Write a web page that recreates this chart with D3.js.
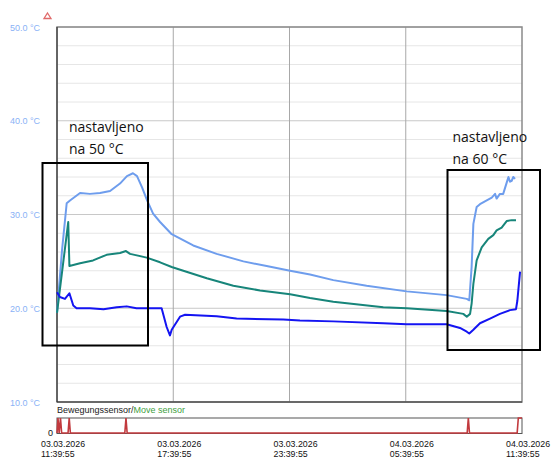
<!DOCTYPE html>
<html>
<head>
<meta charset="utf-8">
<script src="https://cdn.jsdelivr.net/npm/d3@7"></script>
<style>
  body { margin: 0; background: #fff; }
  svg { display: block; font-family: "Liberation Sans", Arial, sans-serif; }
</style>
</head>
<body>
<svg id="chart" width="552" height="457"></svg>
<script>
// hours since 03.03.2026 11:39:55
let lightHours = [0, 0.26, 0.5, 0.67, 1.19, 1.7, 2.22, 2.74, 3.25, 3.61, 3.92, 4.13, 4.39, 4.65, 4.96, 5.32, 5.92, 7.03, 8.24, 9.62, 10.82, 12.03, 13.06, 14.26, 15.98, 18.05, 20.11, 21.15, 21.28, 21.4, 21.49, 21.66, 21.83, 22.18, 22.44, 22.61, 22.69, 22.86, 23.03, 23.21, 23.3, 23.38, 23.47, 23.55, 23.64];
let lightTemp  = [19.5, 26.2, 31.2, 31.5, 32.3, 32.2, 32.3, 32.5, 33.3, 34.1, 34.4, 34.1, 32.9, 31.5, 30.1, 29.2, 27.9, 26.7, 25.8, 25.0, 24.5, 24.0, 23.6, 23.0, 22.4, 21.8, 21.4, 21.0, 20.85, 24.4, 29.0, 30.8, 31.1, 31.5, 31.8, 32.2, 31.7, 32.2, 32.2, 33.4, 34.0, 33.5, 33.6, 34.0, 33.8];

let tealHours = [0, 0.58, 0.64, 1.19, 1.86, 2.56, 3.25, 3.56, 3.77, 4.63, 5.32, 5.92, 6.52, 7.73, 9.1, 10.48, 12.03, 13.06, 14.26, 16.84, 18.05, 20.11, 20.97, 21.15, 21.32, 21.4, 21.49, 21.66, 21.92, 22.26, 22.52, 22.69, 22.95, 23.21, 23.47, 23.69];
let tealTemp  = [19.5, 29.2, 24.5, 24.8, 25.1, 25.7, 25.9, 26.1, 25.8, 25.4, 24.9, 24.4, 24.0, 23.2, 22.4, 21.9, 21.5, 21.1, 20.7, 20.1, 20.0, 19.7, 19.4, 19.1, 19.4, 20.5, 22.6, 25.1, 26.5, 27.4, 27.8, 28.3, 28.6, 29.3, 29.4, 29.4];

let blueHours = [0, 0.15, 0.41, 0.64, 0.84, 1.01, 1.7, 2.4, 3.08, 3.6, 4.1, 5.14, 5.4, 5.66, 5.83, 5.92, 6.35, 6.61, 8.24, 9.27, 11.68, 12.54, 14.26, 16.84, 18.05, 20.11, 20.8, 21.15, 21.28, 21.49, 21.83, 22.35, 22.86, 23.38, 23.69, 23.76, 23.9];
let blueTemp  = [21.7, 21.2, 21.0, 21.6, 20.3, 20.0, 20.0, 19.9, 20.1, 20.2, 20.0, 20.0, 20.0, 18.0, 17.1, 17.7, 19.1, 19.3, 19.15, 18.9, 18.8, 18.7, 18.6, 18.4, 18.3, 18.3, 17.9, 17.5, 17.3, 17.7, 18.4, 18.9, 19.4, 19.8, 19.9, 20.8, 23.9];

let moveHours = [0, 0.05, 0.11, 0.18, 0.24, 0.57, 0.63, 0.69, 3.5, 3.56, 3.62, 21.17, 21.23, 21.29, 23.75, 23.81, 24];
let moveValue = [0, 1, 0, 1, 0, 0, 1, 0, 0, 1, 0, 0, 1, 0, 0, 1, 1];

let yLabels = [10, 20, 30, 40, 50];

let start = new Date(2026, 2, 3, 11, 39, 55);
let toDate = h => new Date(start.getTime() + h * 3600000);

let svg = d3.select("#chart");

let x = d3.scaleTime().domain([start, toDate(24)]).range([57, 522]);
let y = d3.scaleLinear().domain([10, 50]).range([402, 27]);
let ym = d3.scaleLinear().domain([0, 1]).range([433, 418]);

// minor grid every 2 degrees
svg.append("g").selectAll("line")
  .data(d3.range(10, 51, 2))
  .join("line")
  .attr("x1", 57).attr("x2", 522)
  .attr("y1", d => y(d)).attr("y2", d => y(d))
  .attr("stroke", d => d % 10 === 0 ? "#c8c8c8" : "#e6e6e6")
  .attr("stroke-width", 1);

// vertical grid every 6 hours
let xTicks = [0, 6, 12, 18, 24].map(toDate);
svg.append("g").selectAll("line")
  .data(xTicks.slice(1, 4))
  .join("line")
  .attr("x1", d => x(d)).attr("x2", d => x(d))
  .attr("y1", 27).attr("y2", 402)
  .attr("stroke", "#a8a8a8");

// frame
svg.append("rect").attr("x", 57).attr("y", 27).attr("width", 465).attr("height", 375)
  .attr("fill", "none").attr("stroke", "#8a8a8a").attr("stroke-width", 1.5);
svg.append("line").attr("x1", 57).attr("x2", 57).attr("y1", 27).attr("y2", 402).attr("stroke", "#222");
svg.append("line").attr("x1", 57).attr("x2", 522).attr("y1", 402).attr("y2", 402).attr("stroke", "#333");

// y labels
let yAxis = svg.append("g")
  .attr("transform", "translate(40,0)")
  .call(d3.axisLeft(y).tickValues(yLabels).tickSize(0).tickFormat(d => d.toFixed(1) + " °C"));
yAxis.select(".domain").remove();
yAxis.selectAll("text").attr("fill", "#8ab2f6").attr("font-size", 9).attr("x", 0).attr("dy", "0.35em")
  .attr("font-family", "Liberation Sans, Arial, sans-serif");

// small red triangle marker
svg.append("path")
  .attr("d", "M47.5,13 L51,18.5 L44,18.5 Z")
  .attr("fill", "none").attr("stroke", "#e06a6a").attr("stroke-width", 1.3);

// series
function drawLine(hours, temps, color) {
  let pts = hours.map((h, i) => [toDate(h), temps[i]]);
  svg.append("path")
    .datum(pts)
    .attr("fill", "none")
    .attr("stroke", color)
    .attr("stroke-width", 2)
    .attr("stroke-linejoin", "round")
    .attr("d", d3.line().x(d => x(d[0])).y(d => y(d[1])));
}
drawLine(lightHours, lightTemp, "#6e9ded");
drawLine(tealHours, tealTemp, "#17857a");
drawLine(blueHours, blueTemp, "#1414f2");

// annotation boxes
svg.append("rect").attr("x", 42.5).attr("y", 163).attr("width", 105.5).attr("height", 182.5)
  .attr("fill", "none").attr("stroke", "#000").attr("stroke-width", 2);
svg.append("rect").attr("x", 447.5).attr("y", 170).attr("width", 92.5).attr("height", 180)
  .attr("fill", "none").attr("stroke", "#000").attr("stroke-width", 2);

let note = svg.append("g").attr("font-family", "Open Sans, sans-serif").attr("font-size", 14).attr("fill", "#111");
note.append("text").attr("x", 69).attr("y", 132).text("nastavljeno");
note.append("text").attr("x", 69).attr("y", 154).text("na 50 °C");
note.append("text").attr("x", 452.5).attr("y", 141.5).text("nastavljeno");
note.append("text").attr("x", 452.5).attr("y", 163.5).text("na 60 °C");

// motion sensor panel
let legend = svg.append("text").attr("x", 57).attr("y", 412.5).attr("font-size", 9);
legend.append("tspan").attr("fill", "#222").text("Bewegungssensor/");
legend.append("tspan").attr("fill", "#3f9f3f").text("Move sensor");

svg.append("rect").attr("x", 57).attr("y", 418).attr("width", 465).attr("height", 15.5)
  .attr("fill", "none").attr("stroke", "#555");

svg.append("path")
  .datum(moveHours.map((h, i) => [toDate(h), moveValue[i]]))
  .attr("fill", "none")
  .attr("stroke", "#c23a3e")
  .attr("stroke-width", 1.6)
  .attr("d", d3.line().x(d => x(d[0])).y(d => ym(d[1])));

svg.append("text").attr("x", 53).attr("y", 435.5).attr("text-anchor", "end")
  .attr("font-size", 9).attr("fill", "#111").text("0");

// x labels
let fmtDate = d3.timeFormat("%d.%m.%Y");
let fmtTime = d3.timeFormat("%H:%M:%S");
let xl = svg.append("g").selectAll("text")
  .data(xTicks)
  .join("text")
  .attr("font-size", 8.8)
  .attr("fill", "#111");
xl.append("tspan").attr("x", d => x(d) - 16).attr("y", 447).text(d => fmtDate(d));
xl.append("tspan").attr("x", d => x(d) - 16).attr("y", 456.5).text(d => fmtTime(d));
</script>
</body>
</html>
